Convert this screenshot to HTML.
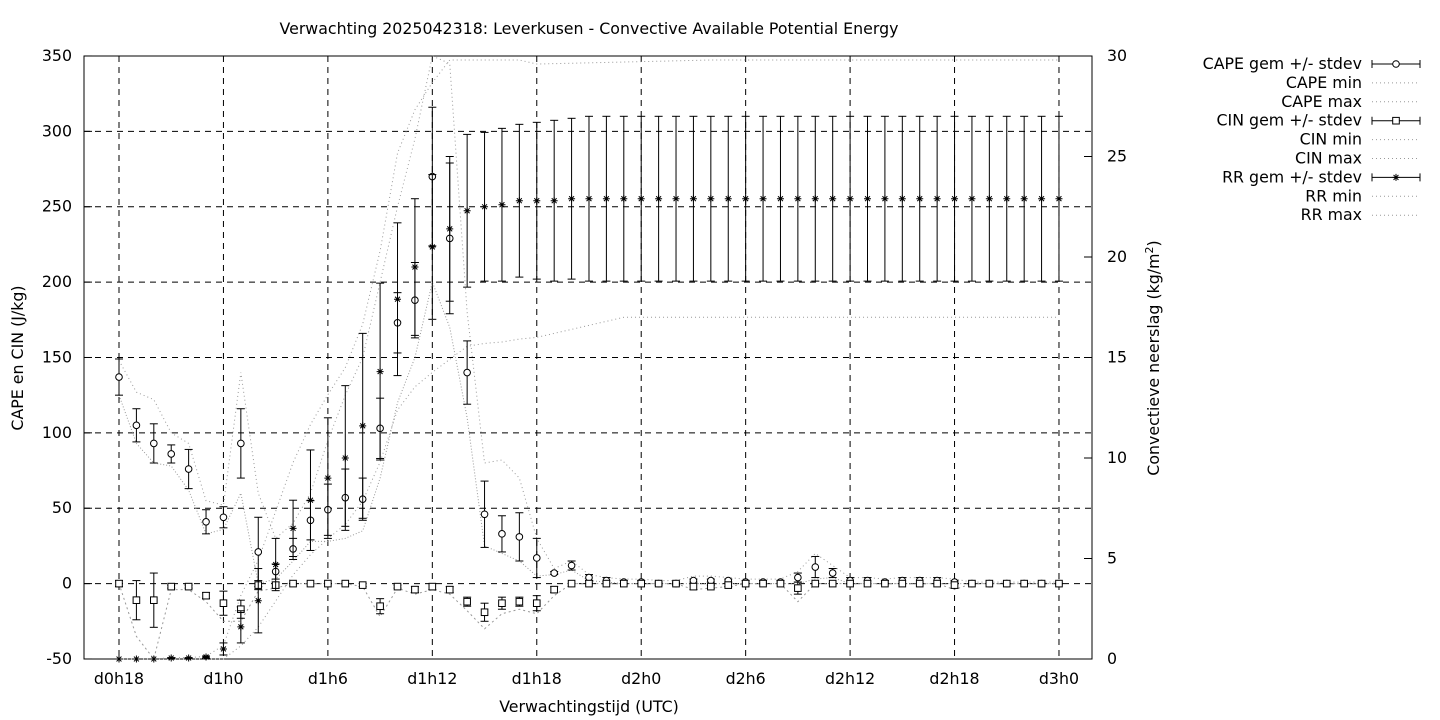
<!DOCTYPE html>
<html><head><meta charset="utf-8"><style>
html,body{margin:0;padding:0;background:#fff;}
svg{display:block;font-family:"DejaVu Sans","Liberation Sans",sans-serif;font-size:15.8px;}
</style></head><body>
<svg id="s" width="1440" height="720" xmlns="http://www.w3.org/2000/svg">
<rect width="1440" height="720" fill="#fff"/>
<text x="589" y="34" text-anchor="middle">Verwachting 2025042318: Leverkusen - Convective Available Potential Energy</text>
<text x="589" y="712" text-anchor="middle">Verwachtingstijd (UTC)</text>
<text transform="translate(23,358) rotate(-90)" text-anchor="middle">CAPE en CIN (J/kg)</text>
<text transform="translate(1159,358) rotate(-90)" text-anchor="middle">Convectieve neerslag (kg/m<tspan dy="-6" font-size="11">2</tspan><tspan dy="6">)</tspan></text>
<g id="g"></g>
</svg>
<script>
const g=document.getElementById('g');
const NS='http://www.w3.org/2000/svg';
function el(t,a,txt){const e=document.createElementNS(NS,t);for(const k in a)e.setAttribute(k,a[k]);if(txt!=null)e.textContent=txt;g.appendChild(e);return e;}
const X0=84,X1=1092,Y0=56,Y1=659;
const yL=v=>583.6-v*1.5075, yR=v=>659-v*20.1, xi=i=>119+i*17.407;
for(let v=-50;v<=350;v+=50){const y=yL(v);
 if(v>-50&&v<350)el('line',{x1:X0,x2:X1,y1:y,y2:y,stroke:'#000','stroke-dasharray':'6,5','stroke-width':1});
 el('line',{x1:X0,x2:X0+8,y1:y,y2:y,stroke:'#000'});
 el('text',{x:72,y:y+5,'text-anchor':'end'},v);}
for(let v=0;v<=30;v+=5){const y=yR(v);el('line',{x1:X1-8,x2:X1,y1:y,y2:y,stroke:'#000'});el('text',{x:1107,y:y+5},v);}
const xl=['d0h18','d1h0','d1h6','d1h12','d1h18','d2h0','d2h6','d2h12','d2h18','d3h0'];
xl.forEach((t,k)=>{const x=xi(k*6);
 el('line',{x1:x,x2:x,y1:Y0,y2:Y1,stroke:'#000','stroke-dasharray':'6,5'});
 el('text',{x:x,y:684,'text-anchor':'middle'},t);});
el('rect',{x:X0,y:Y0,width:X1-X0,height:Y1-Y0,fill:'none',stroke:'#000'});
function dotted(pts,dash){el('polyline',{points:pts.map(p=>p.join(',')).join(' '),fill:'none',stroke:'#999','stroke-width':1,'stroke-dasharray':dash||'1,3'});}
const cape=[137,105,93,86,76,41,44,93,21,8,23,42,49,57,56,103,173,188,270,229,140,46,33,31,17,7,12,4,2,1,1,0,0,2,2,2,1,1,1,4,11,7,2,2,1,2,2,2,1,0,0,0,0,0,0];
const capeS=[12,11,13,6,13,8,7,23,23,5,7,13,17,19,14,20,20,25,46,50,21,22,12,16,13,1,3,2,2,1,1,1,1,1,1,1,1,1,1,3,7,3,2,2,1,2,2,2,1,0,0,0,0,0,0];
const cin=[0,-11,-11,-2,-2,-8,-13,-17,-1,-1,0,0,0,0,-1,-15,-2,-4,-2,-4,-12,-19,-13,-12,-13,-4,0,0,0,0,0,0,0,-2,-2,-1,0,0,0,-3,0,0,0,0,0,0,0,0,-1,0,0,0,0,0,0];
const cinS=[2,13,18,1,1,2,8,6,3,2,0,0,0,0,1,5,1,2,2,2,3,6,4,3,5,2,0,0,0,0,0,0,0,2,1,1,0,0,0,4,0,0,0,0,0,0,0,0,2,0,0,0,0,0,0];
const rr=[0,0,0,0.05,0.05,0.1,0.5,1.6,2.9,4.7,6.5,7.9,9.0,10.0,11.6,14.3,17.9,19.5,20.5,21.4,22.3,22.5,22.6,22.8,22.8,22.8,22.9,22.9];
while(rr.length<55)rr.push(22.9);
const rrS=[0,0,0,0.02,0.02,0.05,0.3,0.8,1.6,1.3,1.4,2.5,3.0,3.6,4.6,4.4,3.8,3.4,3.6,3.6,3.8,3.7,3.8,3.8,3.9,4.0,4.0];
while(rrS.length<55)rrS.push(4.1);
const cmax=[148,127,122,100,93,55,52,140,60,30,40,60,95,125,150,200,250,295,350,345,180,80,82,70,30,10,15,6,4,3,3,2,2,5,5,4,3,3,3,8,20,12,4,4,3,4,4,4,3,1,1,1,1,1,1];
const cmin=[125,93,80,78,62,33,36,60,0,3,15,28,28,30,35,70,120,150,200,170,110,25,20,15,5,6,9,2,1,0,0,0,0,0,0,0,0,0,0,0,3,4,0,0,0,0,0,0,0,0,0,0,0,0,0];
dotted(cmax.map((v,i)=>[xi(i),yL(v)]));dotted(cmin.map((v,i)=>[xi(i),yL(v)]),'1,2');
const cinmin=[0,-35,-50,-4,-4,-12,-25,-25,-5,-3,0,0,0,0,-2,-22,-3,-7,-4,-7,-18,-30,-20,-17,-20,-8,0,0,0,0,0,0,0,-4,-3,-2,0,0,0,-12,0,0,0,0,0,0,0,0,-4,0,0,0,0,0,0];
dotted(cinmin.map((v,i)=>[xi(i),yL(v)]),'2,3');
const rmax=rr.map((v,i)=>i<24?Math.min(29.8,v*1.35+ (i>6?1:0)):29.6+Math.min(0.2,(i-24)*0.02));
const rmin=rr.map((v,i)=>i<24?Math.max(0,v*0.72-0.5):Math.min(17.0,16+(i-24)*0.2));
dotted(rmax.map((v,i)=>[xi(i),yR(v)]));dotted(rmin.map((v,i)=>[xi(i),yR(v)]));
function ebar(x,yc,ylo,yhi){el('line',{x1:x,x2:x,y1:ylo,y2:yhi,stroke:'#000'});
 el('line',{x1:x-4,x2:x+4,y1:ylo,y2:ylo,stroke:'#000'});el('line',{x1:x-4,x2:x+4,y1:yhi,y2:yhi,stroke:'#000'});}
function star(x,y){const d=3.5;el('path',{d:`M${x-d},${y}H${x+d}M${x},${y-d}V${y+d}M${x-d*.7},${y-d*.7}L${x+d*.7},${y+d*.7}M${x-d*.7},${y+d*.7}L${x+d*.7},${y-d*.7}`,stroke:'#000',fill:'none'});}
for(let i=0;i<55;i++){const x=xi(i);
 ebar(x,0,yL(cape[i]-capeS[i]),yL(cape[i]+capeS[i]));el('circle',{cx:x,cy:yL(cape[i]),r:3.3,fill:'#fff',stroke:'#000'});
 ebar(x,0,yL(cin[i]-cinS[i]),yL(cin[i]+cinS[i]));el('rect',{x:x-3.3,y:yL(cin[i])-3.3,width:6.6,height:6.6,fill:'#fff',stroke:'#000'});
 ebar(x,0,yR(Math.max(0,rr[i]-rrS[i])),yR(rr[i]+rrS[i]));star(x,yR(rr[i]));}
const L=[['CAPE gem +/- stdev','c'],['CAPE min','d'],['CAPE max','d'],['CIN gem +/- stdev','s'],['CIN min','d'],['CIN max','d'],['RR gem +/- stdev','*'],['RR min','d'],['RR max','d']];
L.forEach((l,k)=>{const y=64+k*18.9;el('text',{x:1362,y:y+5,'text-anchor':'end'},l[0]);
 if(l[1]=='d'){el('line',{x1:1372,x2:1420,y1:y,y2:y,stroke:'#999','stroke-dasharray':'1,3'});}
 else{el('line',{x1:1372,x2:1420,y1:y,y2:y,stroke:'#000'});el('line',{x1:1372,x2:1372,y1:y-4,y2:y+4,stroke:'#000'});el('line',{x1:1420,x2:1420,y1:y-4,y2:y+4,stroke:'#000'});
  if(l[1]=='c')el('circle',{cx:1396,cy:y,r:3.3,fill:'#fff',stroke:'#000'});
  else if(l[1]=='s')el('rect',{x:1392.7,y:y-3.3,width:6.6,height:6.6,fill:'#fff',stroke:'#000'});
  else star(1396,y);}});
</script>
</body></html>
